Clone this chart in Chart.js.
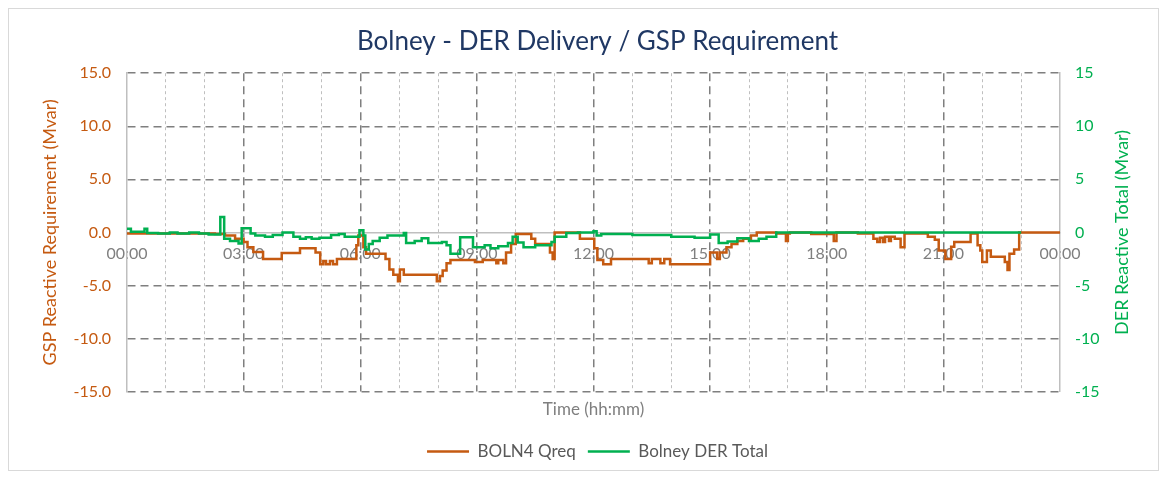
<!DOCTYPE html>
<html>
<head>
<meta charset="utf-8">
<script src="https://cdn.jsdelivr.net/npm/chart.js@4"></script>
<style>
  html, body { margin: 0; padding: 0; background: #fff; }
  .frame { position: absolute; left: 8px; top: 8px; width: 1149px; height: 461px; border: 1px solid #d9d9d9; }
  .wrap { position: absolute; left: 0; top: 0; width: 1167px; height: 477px; }
</style>
</head>
<body>
<div class="frame"></div>
<div class="wrap"><canvas id="derChart" width="1167" height="477"></canvas></div>
<script>
// x tick labels, every 3 hours
const hourLabels = ['00:00', '03:00', '06:00', '09:00', '12:00', '15:00', '18:00', '21:00', '00:00'];

// BOLN4 Qreq (Mvar), step changes: time in hours, value held from that time
const qreqTimes = [0, 2.26, 2.52, 2.78, 3.0, 3.1, 3.25, 3.5, 3.98, 4.45, 4.85, 4.97, 5.05, 5.12, 5.22, 5.3, 5.4, 5.9, 5.95, 6.08,
  6.15, 6.65, 6.75, 6.85, 6.97, 7.02, 7.12, 7.97, 8.05, 8.12, 8.22, 8.32, 8.95, 9.15, 9.5, 9.55, 9.68, 9.75, 9.88, 10.0,
  10.4, 10.5, 10.88, 10.95, 11.0, 11.65, 12.02, 12.1, 12.25, 12.45, 13.42, 13.5, 13.72, 13.82, 13.97, 15.0, 15.18, 15.25, 15.42, 15.55,
  15.7, 15.85, 16.05, 16.2, 16.7, 16.95, 17.0, 17.05, 17.6, 18.18, 18.25, 18.8, 19.2, 19.3, 19.37, 19.45, 19.5, 19.6, 19.65, 19.75,
  19.9, 20.0, 20.6, 20.78, 20.88, 21.05, 21.2, 21.28, 21.7, 21.88, 21.95, 22.0, 22.12, 22.22, 22.58, 22.65, 22.7, 22.82, 22.95, 24.0];
const qreqValues = [-0.1, -0.15, -0.3, -0.6, -0.9, -1.4, -1.85, -2.5, -1.95, -1.5, -1.9, -3.0, -2.7, -3.0, -2.7, -3.0, -2.5, -1.2, -0.3, -1.4,
  -2.0, -2.5, -3.5, -4.0, -4.6, -3.5, -4.0, -4.6, -4.1, -3.6, -2.9, -2.6, -2.8, -2.6, -2.9, -2.6, -2.9, -1.9, -1.1, -0.15,
  -0.6, -1.1, -1.9, -2.5, 0.0, -0.6, -1.5, -2.6, -3.0, -2.5, -2.9, -2.5, -2.9, -2.5, -3.0, -1.9, -2.5, -1.9, -1.4, -1.1,
  -0.8, -0.6, -0.3, 0.0, -0.1, -0.8, -0.1, 0.0, -0.15, -0.8, 0.0, -0.1, -0.6, -0.9, -0.5, -0.9, -0.4, -0.8, -0.4, -0.6,
  -1.4, -0.1, -0.4, -0.7, -1.7, -2.5, -1.35, -0.9, -0.1, -1.2, -1.7, -2.8, -1.7, -2.3, -2.8, -3.55, -2.0, -1.6, 0.0, 0.0];

// Bolney DER Total (Mvar), right axis
const derTimes = [0, 0.1, 0.45, 0.52, 0.8, 1.1, 1.3, 1.6, 1.85, 2.1, 2.4, 2.5, 2.65, 2.87, 2.95, 3.18, 3.3, 3.55, 3.75, 4.0,
  4.28, 4.45, 4.6, 4.75, 4.95, 5.25, 5.45, 5.6, 5.98, 6.08, 6.13, 6.22, 6.32, 6.5, 6.7, 7.12, 7.18, 7.4, 7.58, 7.75,
  8.1, 8.22, 8.32, 8.57, 8.9, 9.2, 9.35, 9.55, 9.8, 9.92, 10.05, 10.2, 10.5, 10.92, 11.0, 11.3, 11.6, 12.0, 12.08, 12.2,
  13.0, 14.0, 14.6, 15.0, 15.22, 15.45, 15.7, 16.0, 16.25, 16.45, 16.7, 23.0];
const derValues = [0.35, 0.05, 0.35, -0.05, -0.1, 0.0, -0.1, 0.0, -0.1, -0.2, 1.45, -0.6, -0.8, -1.05, 0.4, -0.1, -0.3, -0.4, -0.25, 0.0,
  -0.4, -0.6, -0.45, -0.6, -0.5, -0.25, -0.15, -0.4, 0.2, -0.3, -1.6, -1.1, -0.8, -0.5, -0.3, -0.05, -1.0, -0.8, -0.55, -1.0,
  -0.9, -1.2, -2.0, -0.45, -1.4, -1.2, -1.5, -1.3, -1.0, -0.4, -0.95, -1.4, -1.2, -0.9, -0.4, -0.05, 0.0, 0.1, -0.3, -0.15,
  -0.25, -0.4, -0.5, -0.2, -1.0, -0.85, -0.55, -0.8, -0.6, -0.4, 0.0, 0.0];

const ORANGE = '#c55a11';
const GREEN = '#00b050';
const FONT = 'Lato, "Open Sans", sans-serif';

const toPoints = (times, values) => times.map((t, i) => ({ x: t, y: values[i] }));

// right axis title reads bottom-to-top like the left one
const rightTitle = {
    id: 'rightTitle',
    afterDraw(chart) {
        const ctx = chart.ctx;
        const area = chart.chartArea;
        ctx.save();
        ctx.translate(1122, (area.top + area.bottom) / 2);
        ctx.rotate(-Math.PI / 2);
        ctx.font = '18px ' + FONT;
        ctx.fillStyle = GREEN;
        ctx.textAlign = 'center';
        ctx.textBaseline = 'middle';
        ctx.fillText('DER Reactive Total (Mvar)', 0, 0);
        ctx.restore();
    }
};

new Chart(document.getElementById('derChart'), {
    type: 'line',
    data: {
        datasets: [{
            label: 'BOLN4 Qreq',
            data: toPoints(qreqTimes, qreqValues),
            borderColor: ORANGE,
            backgroundColor: ORANGE,
            borderWidth: 2.5,
            pointRadius: 0,
            stepped: true,
            yAxisID: 'y',
            order: 1
        }, {
            label: 'Bolney DER Total',
            data: toPoints(derTimes, derValues),
            borderColor: GREEN,
            backgroundColor: GREEN,
            borderWidth: 2.5,
            pointRadius: 0,
            stepped: true,
            yAxisID: 'y2',
            order: 0
        }]
    },
    options: {
        responsive: false,
        animation: false,
        layout: { padding: { top: 18, left: 28, right: 0, bottom: 7 } },
        plugins: {
            title: {
                display: true,
                text: 'Bolney - DER Delivery / GSP Requirement',
                color: '#203864',
                font: { family: FONT, size: 26, weight: 'normal' },
                padding: { top: 8, bottom: 16 }
            },
            legend: {
                position: 'bottom',
                labels: {
                    usePointStyle: true,
                    pointStyle: 'line',
                    pointStyleWidth: 42,
                    color: '#595959',
                    font: { family: FONT, size: 17 },
                    padding: 12,
                    sort: (a, b) => a.datasetIndex - b.datasetIndex
                }
            },
            tooltip: { enabled: false }
        },
        scales: {
            x: {
                type: 'linear',
                position: { y: 0 },
                min: 0,
                max: 24,
                ticks: {
                    stepSize: 1,
                    autoSkip: false,
                    maxRotation: 0,
                    padding: 12,
                    color: '#7f7f7f',
                    font: { family: FONT, size: 16 },
                    callback: v => (v % 3 === 0 ? hourLabels[v / 3] : '')
                },
                grid: {
                    drawTicks: false,
                    lineWidth: c => (c.tick && c.tick.value % 3 === 0 ? 1.5 : 1),
                    color: c => {
                        if (!c.tick) return '#bfbfbf';
                        const v = c.tick.value;
                        if (v === 0 || v === 24) return 'rgba(0,0,0,0)';
                        return v % 3 === 0 ? '#7f7f7f' : '#bfbfbf';
                    }
                },
                border: {
                    color: '#bfbfbf',
                    width: 1.5,
                    dash: c => (c.tick && c.tick.value % 3 === 0 ? [8, 5] : [3, 3])
                }
            },
            xTitle: {
                type: 'linear',
                axis: 'x',
                position: 'bottom',
                min: 0,
                max: 24,
                ticks: { display: false },
                grid: { display: false, drawTicks: false },
                border: { display: false },
                title: {
                    display: true,
                    text: 'Time (hh:mm)',
                    color: '#7f7f7f',
                    font: { family: FONT, size: 17 },
                    padding: { top: 8, bottom: 11 }
                }
            },
            y: {
                position: 'left',
                min: -15,
                max: 15,
                afterFit: s => { s.width = 99; },
                ticks: {
                    stepSize: 5,
                    padding: 16,
                    color: ORANGE,
                    font: { family: FONT, size: 16 },
                    callback: v => v.toFixed(1)
                },
                grid: {
                    drawTicks: false,
                    lineWidth: 1.5,
                    color: c => (c.tick && c.tick.value === 0 ? 'rgba(0,0,0,0)' : '#7f7f7f')
                },
                border: { color: '#bfbfbf', width: 1.5, dash: [8, 5] },
                title: {
                    display: true,
                    text: 'GSP Reactive Requirement (Mvar)',
                    color: ORANGE,
                    font: { family: FONT, size: 18 },
                    padding: { top: 11, bottom: 0 }
                }
            },
            y2: {
                position: 'right',
                min: -15,
                max: 15,
                afterFit: s => { s.width = 107; },
                ticks: {
                    stepSize: 5,
                    padding: 15,
                    color: GREEN,
                    font: { family: FONT, size: 16 }
                },
                grid: { drawOnChartArea: false, drawTicks: false },
                border: { color: '#bfbfbf', width: 1.5 }
            }
        }
    },
    plugins: [rightTitle]
});
</script>
</body>
</html>
